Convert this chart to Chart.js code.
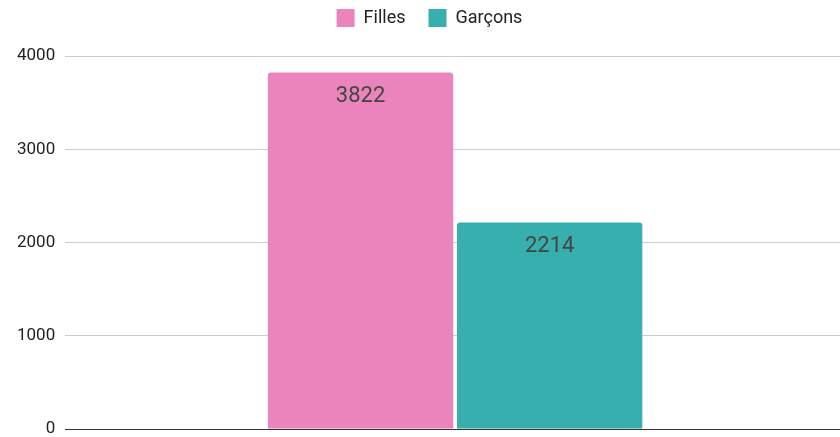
<!DOCTYPE html>
<html><head><meta charset="utf-8">
<script src="https://cdn.jsdelivr.net/npm/chart.js@4/dist/chart.umd.min.js"></script>
<style>html,body{margin:0;padding:0;background:#fff;}#wrap{width:840px;height:437px;}</style>
</head><body><div id="wrap"><canvas id="c" width="840" height="437"></canvas></div>
<script>
const categories = [""];
const seriesNames = ["Filles", "Garçons"];
const filles = [3822];
const garcons = [2214];
const yTicks = [0, 1000, 2000, 3000, 4000];
const colors = ["#EB84BD", "#38AFAF"];

const labelPlugin = {
  id: 'valueLabels',
  afterDatasetsDraw(chart) {
    const ctx = chart.ctx;
    ctx.save();
    ctx.font = '22px Roboto';
    ctx.fillStyle = '#444';
    ctx.textAlign = 'center';
    ctx.textBaseline = 'middle';
    chart.data.datasets.forEach((ds, i) => {
      chart.getDatasetMeta(i).data.forEach((bar, j) => {
        ctx.fillText(String(ds.data[j]), bar.x, bar.y + 24);
      });
    });
    ctx.restore();
  }
};

const legendPlacePlugin = {
  id: 'legendPlace',
  afterInit(chart) {
    const lg = chart.legend;
    if (!lg) return;
    const origFit = lg.fit;
    lg.fit = function() { origFit.call(this); this.height = 56; };
    const origDraw = lg.draw;
    lg.draw = function() {
      const ctx = this.ctx;
      ctx.save();
      ctx.translate(6, -14);
      origDraw.call(this);
      ctx.restore();
    };
  },
  afterLayout(chart) {
    const x = chart.scales.x;
    if (!x) return;
    x.right += 5;
    x.width += 5;
    x.configure();
  }
};

new Chart(document.getElementById('c'), {
  type: 'bar',
  data: {
    labels: categories,
    datasets: [
      { label: seriesNames[0], data: filles, backgroundColor: colors[0], borderRadius: {topLeft: 3, topRight: 3}, borderSkipped: 'bottom' },
      { label: seriesNames[1], data: garcons, backgroundColor: colors[1], borderRadius: {topLeft: 3, topRight: 3}, borderSkipped: 'bottom' }
    ]
  },
  options: {
    responsive: false,
    animation: false,
    layout: { padding: { left: 7, right: 0, top: 0, bottom: 8 } },
    plugins: {
      legend: {
        position: 'top',
        labels: { boxWidth: 18, boxHeight: 18, font: { family: 'Roboto', size: 18 }, color: '#222', padding: 23 }
      },
      tooltip: { enabled: false }
    },
    scales: {
      x: {
        display: false
      },
      y: {
        min: 0, max: 4000,
        afterBuildTicks(axis) { axis.ticks = yTicks.map(v => ({ value: v })); },
        afterFit(axis) { axis.paddingTop = 0; axis.paddingBottom = 0; },
        ticks: { font: { family: 'Roboto', size: 17 }, color: '#222', padding: 10, callback: v => String(v) },
        grid: { color: ctx => ctx.tick && ctx.tick.value === 0 ? '#333' : '#ccc', drawTicks: false },
        border: { display: false }
      }
    },
    datasets: { bar: { categoryPercentage: 0.485, barPercentage: 0.98 } }
  },
  plugins: [labelPlugin, legendPlacePlugin]
});
</script></body></html>
